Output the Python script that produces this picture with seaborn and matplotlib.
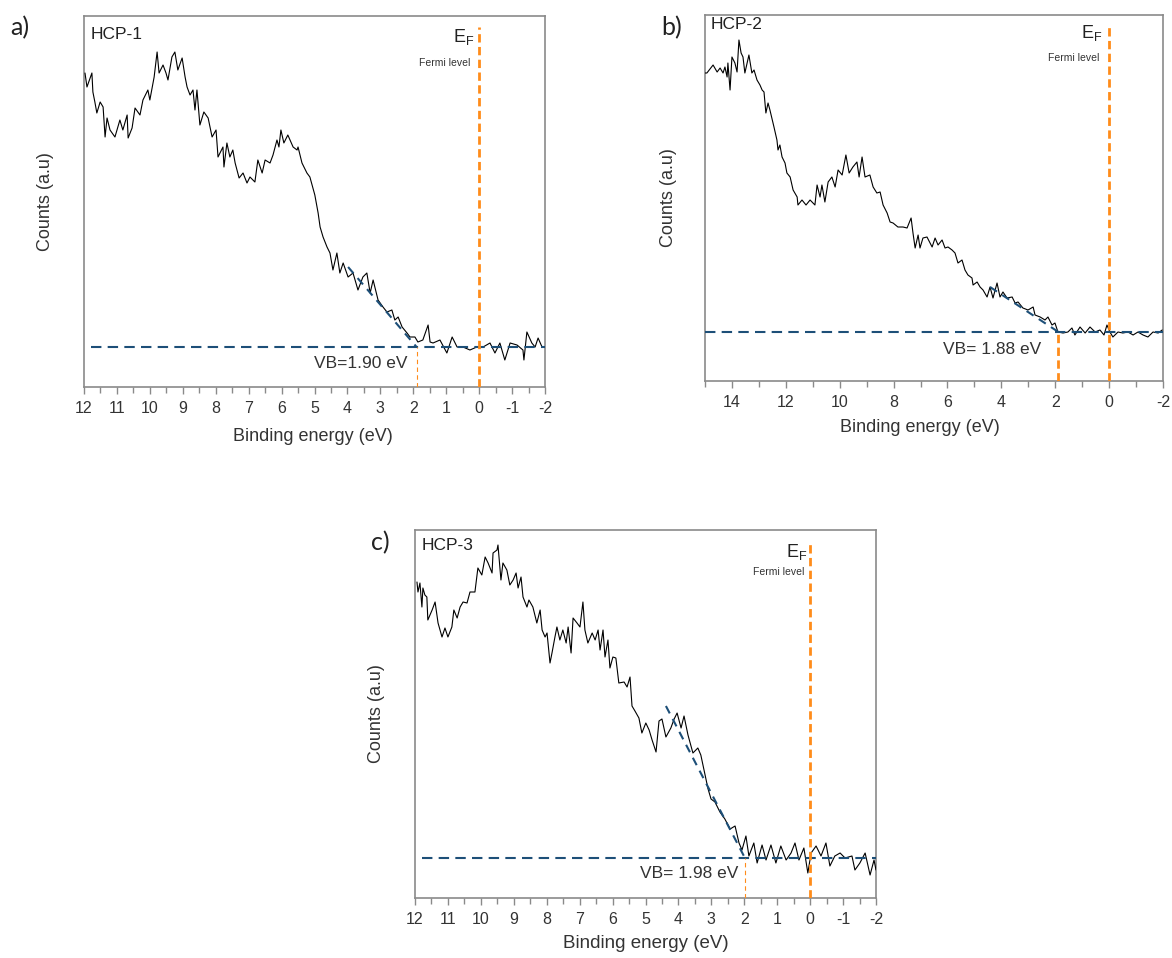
import numpy as np
import pandas as pd
import matplotlib
matplotlib.use("Agg")
import matplotlib.pyplot as plt
from matplotlib.ticker import MultipleLocator
import seaborn as sns

# ---------------- data ----------------
# Panel a) HCP-1
energy_a = [11.97, 11.91, 11.76, 11.73, 11.67, 11.61, 11.51, 11.42, 11.36, 11.30, 11.21, 11.06,
            10.91, 10.82, 10.69, 10.66, 10.54, 10.45, 10.30, 10.21, 10.06, 10.00, 9.87, 9.78,
            9.72, 9.60, 9.51, 9.45, 9.33, 9.24, 9.15, 9.02, 8.93, 8.87, 8.78, 8.69, 8.63, 8.57,
            8.48, 8.36, 8.23, 8.11, 7.99, 7.93, 7.78, 7.75, 7.66, 7.57, 7.48, 7.41, 7.29, 7.17,
            7.05, 6.96, 6.81, 6.72, 6.59, 6.50, 6.35, 6.26, 6.14, 6.08, 6.02, 5.93, 5.81, 5.65,
            5.53, 5.50, 5.38, 5.23, 5.14, 4.99, 4.89, 4.83, 4.74, 4.62, 4.53, 4.44, 4.32, 4.23,
            4.13, 3.98, 3.83, 3.68, 3.53, 3.41, 3.31, 3.22, 3.07, 2.92, 2.80, 2.65, 2.56, 2.46,
            2.34, 2.19, 2.10, 1.95, 1.86, 1.71, 1.55, 1.49, 1.40, 1.19, 0.98, 0.82, 0.67, 0.49,
            0.28, 0.07, -0.12, -0.33, -0.48, -0.63, -0.78, -0.94, -1.15, -1.33, -1.36, -1.45,
            -1.60, -1.70, -1.79, -1.91]
counts_a = [314, 300, 314, 295, 285, 274, 285, 280, 250, 269, 257, 250,
            267, 257, 272, 249, 259, 279, 272, 287, 297, 287, 310, 335,
            314, 322, 314, 307, 330, 335, 317, 329, 310, 300, 292, 297, 277, 297,
            262, 275, 269, 250, 257, 230, 240, 220, 244, 230, 237, 224, 209, 214,
            204, 210, 205, 227, 214, 227, 224, 232, 247, 240, 257, 244, 252, 240,
            237, 240, 224, 214, 210, 192, 174, 160, 150, 140, 134, 117, 134, 114,
            124, 110, 114, 97, 110, 114, 94, 107, 87, 80, 75, 77, 67, 70,
            60, 54, 50, 50, 45, 47, 62, 45, 44, 47, 34, 50, 40, 40,
            37, 40, 40, 44, 34, 44, 27, 44, 42, 37, 27, 55,
            44, 40, 49, 40]

# Panel b) HCP-2
energy_b = [15.00, 14.93, 14.70, 14.55, 14.44, 14.33, 14.26, 14.18, 14.15, 14.07, 14.00, 13.89,
            13.81, 13.74, 13.66, 13.59, 13.52, 13.37, 13.26, 13.18, 13.07, 12.96, 12.88, 12.81,
            12.74, 12.66, 12.59, 12.44, 12.33, 12.29, 12.22, 12.14, 12.03, 11.96, 11.84, 11.73,
            11.58, 11.55, 11.40, 11.25, 11.10, 10.92, 10.84, 10.73, 10.66, 10.55, 10.43, 10.29,
            10.17, 10.06, 9.91, 9.77, 9.65, 9.51, 9.36, 9.28, 9.17, 9.06, 8.88, 8.76, 8.62, 8.50,
            8.39, 8.24, 8.13, 8.02, 7.84, 7.65, 7.50, 7.35, 7.28, 7.20, 7.09, 7.02, 6.91, 6.76,
            6.57, 6.46, 6.35, 6.20, 6.09, 5.98, 5.83, 5.72, 5.61, 5.46, 5.35, 5.24, 5.09, 5.05,
            4.90, 4.79, 4.68, 4.53, 4.42, 4.31, 4.16, 4.05, 3.94, 3.79, 3.60, 3.49, 3.38, 3.20,
            3.01, 2.82, 2.75, 2.56, 2.38, 2.27, 2.12, 2.01, 1.90, 1.71, 1.53, 1.38, 1.27, 1.08,
            0.89, 0.71, 0.52, 0.34, 0.19, 0.08, -0.03, -0.14, -0.33, -0.51, -0.70, -0.89, -1.07,
            -1.26, -1.44, -1.63, -1.82, -1.97]
counts_b = [308, 308, 316, 309, 313, 308, 314, 304, 318, 291, 324, 318,
            309, 341, 328, 324, 308, 326, 308, 311, 301, 296, 291, 289,
            268, 278, 271, 254, 241, 231, 236, 224, 218, 208, 204, 191,
            184, 176, 181, 176, 181, 176, 196, 184, 196, 179, 199, 204,
            194, 211, 206, 226, 208, 214, 219, 204, 224, 204, 206, 194, 188, 189,
            176, 168, 159, 158, 154, 154, 153, 163, 148, 133, 146, 133, 143, 144,
            134, 143, 136, 141, 133, 134, 131, 128, 118, 121, 111, 106, 103, 96,
            99, 94, 91, 84, 94, 83, 98, 84, 89, 83, 84, 78, 79, 73,
            71, 74, 66, 64, 61, 64, 56, 58, 49, 48, 49, 53, 46, 54,
            48, 54, 49, 51, 46, 56, 49, 44, 49, 48, 49, 46, 49,
            46, 44, 49, 48, 51]

# Panel c) HCP-3
energy_c = [11.94, 11.91, 11.85, 11.79, 11.76, 11.70, 11.64, 11.61, 11.48, 11.39, 11.30, 11.18,
            11.09, 11.00, 10.88, 10.82, 10.72, 10.63, 10.54, 10.42, 10.33, 10.18, 10.09, 9.97,
            9.87, 9.78, 9.66, 9.63, 9.51, 9.48, 9.39, 9.33, 9.21, 9.12, 9.02, 8.93, 8.87, 8.78,
            8.72, 8.60, 8.54, 8.42, 8.30, 8.20, 8.14, 8.05, 7.99, 7.90, 7.84, 7.75, 7.69, 7.60,
            7.51, 7.41, 7.35, 7.26, 7.20, 7.08, 6.99, 6.90, 6.84, 6.75, 6.62, 6.53, 6.44, 6.38,
            6.29, 6.23, 6.14, 6.08, 5.99, 5.90, 5.81, 5.65, 5.56, 5.47, 5.41, 5.32, 5.20, 5.11,
            4.99, 4.89, 4.80, 4.68, 4.59, 4.50, 4.38, 4.23, 4.13, 4.04, 3.92, 3.83, 3.71, 3.56,
            3.41, 3.32, 3.19, 3.10, 3.01, 2.89, 2.74, 2.59, 2.43, 2.28, 2.16, 2.07, 1.95, 1.86,
            1.71, 1.61, 1.46, 1.34, 1.19, 1.04, 0.89, 0.73, 0.58, 0.46, 0.34, 0.19, 0.07, -0.03,
            -0.18, -0.33, -0.48, -0.60, -0.75, -0.91, -1.06, -1.27, -1.36, -1.51, -1.67, -1.82,
            -1.94, -2.00]
counts_c = [316, 306, 315, 291, 310, 303, 301, 278, 288, 296, 275, 261,
            270, 261, 271, 288, 280, 291, 296, 295, 306, 306, 330, 323,
            341, 335, 325, 345, 348, 353, 318, 335, 328, 313, 318, 325, 310, 321,
            301, 291, 298, 291, 275, 288, 268, 261, 265, 235, 245, 261, 271, 258,
            268, 255, 271, 245, 280, 275, 271, 296, 268, 255, 265, 258, 268, 248,
            268, 241, 258, 230, 241, 240, 215, 216, 211, 221, 192, 187, 180, 165,
            175, 168, 158, 146, 177, 179, 161, 170, 179, 185, 170, 182, 163, 145,
            150, 143, 123, 109, 99, 96, 86, 79, 69, 72, 55, 48, 62, 42,
            55, 35, 53, 38, 53, 35, 52, 38, 45, 55, 38, 50, 25, 45,
            52, 42, 55, 32, 42, 45, 40, 42, 28, 35, 45, 23,
            38, 28]

sample_names = ["HCP-1", "HCP-2", "HCP-3"]
panel_letters = ["a)", "b)", "c)"]
vb_values = [1.90, 1.88, 1.98]
vb_labels = ["VB=1.90 eV", "VB= 1.88 eV", "VB= 1.98 eV"]
baseline_levels = [40, 49, 40]
tangent_x = [[3.98, 1.90], [4.42, 1.88], [4.38, 1.98]]
tangent_y = [[120, 40], [94, 49], [192, 40]]
x_limits = [(12, -2), (15, -2), (12, -2)]
y_limits = [(0, 371), (0, 366), (0, 368)]
x_major = [1, 2, 1]
x_minor = [0.5, 1, 0.5]

# ---------------- style ----------------
sns.set_style("white")
plt.rcParams["font.family"] = "sans-serif"
plt.rcParams["font.sans-serif"] = ["Liberation Sans", "DejaVu Sans"]
plt.rcParams["mathtext.fontset"] = "custom"
plt.rcParams["mathtext.rm"] = "Liberation Sans"

ORANGE = "#ff8c1a"
NAVY = "#1d4f78"
FRAME = "#8a8a8a"
TXT = "#333333"
FONT = ["Liberation Sans", "DejaVu Sans"]

fig = plt.figure(figsize=(11.72, 9.58), dpi=100)
W, H = 1172, 958
# axes boxes in pixels: left, top, right, bottom
boxes = [(84, 16, 545, 387), (705, 15, 1163, 381), (415, 530, 876, 898)]
axes = []
for (l, t, r, b) in boxes:
    axes.append(fig.add_axes([l / W, 1 - b / H, (r - l) / W, (b - t) / H]))

data = [(energy_a, counts_a), (energy_b, counts_b), (energy_c, counts_c)]

for i, ax in enumerate(axes):
    e, c = data[i]
    df = pd.DataFrame({"Binding energy (eV)": e, "Counts (a.u)": c})
    sns.lineplot(data=df, x="Binding energy (eV)", y="Counts (a.u)", ax=ax,
                 color="black", lw=0.8, sort=False, zorder=3)

    ax.set_xlim(*x_limits[i])
    ax.set_ylim(*y_limits[i])

    # baseline
    x0 = x_limits[i][0] - (0.2 if i != 1 else 0.0)
    ax.plot([x0, x_limits[i][1]], [baseline_levels[i]] * 2, color=NAVY, lw=1.5,
            ls=(0, (5, 3)), zorder=4)
    # tangent
    ax.plot(tangent_x[i], tangent_y[i], color=NAVY, lw=1.5, ls=(0, (4, 3)), zorder=4)
    # Fermi level line
    ax.plot([0, 0], [0, y_limits[i][1] * 0.97], color=ORANGE, lw=2, ls=(0, (3, 1.6)), zorder=5)
    # VB line
    if i == 1:
        ax.plot([vb_values[i]] * 2, [0, baseline_levels[i]], color=ORANGE, lw=2,
                ls=(0, (3, 1.6)), zorder=5)
    else:
        ax.plot([vb_values[i]] * 2, [0, baseline_levels[i]], color=ORANGE, lw=0.8,
                ls=(0, (4, 3)), zorder=5)

    # ticks
    ax.xaxis.set_major_locator(MultipleLocator(x_major[i]))
    ax.xaxis.set_minor_locator(MultipleLocator(x_minor[i]))
    ax.tick_params(axis="x", which="both", direction="out", bottom=True, top=False,
                   color=FRAME, labelcolor=TXT, labelsize=11.5, pad=5)
    ax.tick_params(axis="x", which="major", length=5, width=1)
    ax.tick_params(axis="x", which="minor", length=4, width=1)
    ax.set_yticks([])
    ax.xaxis.set_major_formatter(matplotlib.ticker.FuncFormatter(lambda v, p: f"{v:g}"))
    for lab in ax.get_xticklabels():
        lab.set_family(FONT)
    for s in ax.spines.values():
        s.set_color(FRAME)
        s.set_linewidth(1.2)

    ax.set_xlabel("Binding energy (eV)", fontsize=13.5 if i == 2 else 13, color=TXT,
                  family=FONT)
    ax.set_ylabel("Counts (a.u)", fontsize=13, color=TXT, family=FONT)

# label positions (x label: top edge; y label: right edge)
axes[0].xaxis.set_label_coords(0.497, -0.11)
axes[1].xaxis.set_label_coords(0.47, -0.104)
axes[2].xaxis.set_label_coords(0.5, -0.10)
axes[0].yaxis.set_label_coords(-0.065, 0.5)
axes[1].yaxis.set_label_coords(-0.061, 0.5)
axes[2].yaxis.set_label_coords(-0.065, 0.5)

# in-axes texts
name_pos = [(0.015, 0.949), (0.013, 0.973), (0.015, 0.959)]
ef_pos = [(0.15, 350), (0.26, 348), (0.10, 346)]
fermi_pos = [(0.28, 324), (0.37, 323), (0.16, 326)]
vb_pos = [(2.19, 24), (2.53, 31), (2.19, 25)]
for i, ax in enumerate(axes):
    ax.text(*name_pos[i], sample_names[i], transform=ax.transAxes, fontsize=12.5,
            color="#222222", ha="left", va="center", family=FONT)
    ax.text(*ef_pos[i], r"E$_\mathregular{F}$", fontsize=13, color="#222222",
            ha="right", va="center", family=FONT)
    ax.text(*fermi_pos[i], "Fermi level", fontsize=7.5, color="#333333",
            ha="right", va="center", family=FONT)
    ax.text(*vb_pos[i], vb_labels[i], fontsize=12.5, color="#333333",
            ha="right", va="center", family=FONT)

# panel letters
letter_pos = [(20, 28), (672, 28), (380, 543)]
for (px, py), lab in zip(letter_pos, panel_letters):
    fig.text(px / W, 1 - py / H, lab, fontsize=18, color="#222222",
             family=["Lato", "DejaVu Sans"], ha="center", va="center")

fig.savefig("out.png", dpi=100)
